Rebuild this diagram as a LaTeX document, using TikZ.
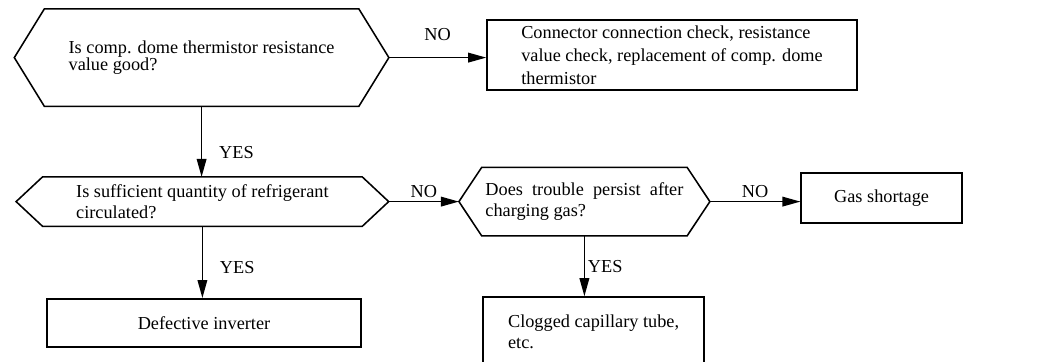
\documentclass[tikz,border=0pt]{standalone}
\usepackage{fontspec}
\setmainfont{Liberation Serif}
\usetikzlibrary{arrows.meta, positioning, calc}
\newcommand{\flowfont}{\fontsize{13}{14.6}\selectfont}
\tikzset{
  box/.style={
    rectangle, draw=black, fill=white, line width=1.1pt,
    align=center, font=\flowfont
  },
  decision/.style={
    rectangle, align=left, font=\flowfont, inner sep=0pt
  },
  lbl/.style={font=\flowfont, inner sep=2pt},
  arrow/.style={-{Triangle[length=4.5mm,width=2.4mm]}, line width=1.1pt},
  frame/.style={line width=1.1pt, line join=miter},
}
% hexagon outline round a decision node, #2 = depth of the points
\newcommand{\hexframe}[2]{%
  \draw[frame] (#1.north west) -- (#1.north east)
    -- ([xshift=#2]#1.east) coordinate (#1-r)
    -- (#1.south east) -- (#1.south west)
    -- ([xshift=-#2]#1.west) coordinate (#1-l) -- cycle;}

\begin{document}
\begin{tikzpicture}
  \useasboundingbox (0,0) rectangle (25.95,-9.025);
  \clip (0,0) rectangle (25.95,-9.025);

  % decisions
  \node[decision, minimum width=7.85cm, minimum height=2.42cm] (q1) at (5.04,-1.44)
    {Is comp. dome thermistor resistance\\[-2pt]value good?};
  \hexframe{q1}{0.75cm}

  \node[decision, minimum width=7.98cm, minimum height=1.22cm] (q2) at (5.06,-5.04)
    {Is sufficient quantity of refrigerant\\circulated?};
  \hexframe{q2}{0.66cm}

  \node[decision, minimum width=5.12cm, minimum height=1.7cm] (q3) at (14.61,-5.04)
    {Does\ \ trouble\ \ persist\ \ after\\charging gas?};
  \hexframe{q3}{0.57cm}

  % results
  \node[box, minimum width=9.25cm, minimum height=1.75cm, align=left, xshift=-0.15cm] (fix) at (16.95,-1.38)
    {Connector connection check, resistance\\[1.5pt]value check, replacement of comp. dome\\[1.5pt]thermistor};
  \node[box, minimum width=4.02cm, minimum height=1.25cm] (gas) at (22.04,-4.95) {Gas shortage};
  \node[box, minimum width=7.85cm, minimum height=1.2cm] (inv) at (5.1,-8.07) {Defective inverter};
  \node[box, minimum width=5.53cm, minimum height=1.75cm, align=left] (clog) at (14.84,-8.3)
    {Clogged capillary tube,\\etc.};

  % connectors
  \draw[arrow] (q1-r) -- (q1-r -| fix.west) node[midway, above=0.34cm, lbl] {NO};
  \draw[arrow] (q1.south) -- (q1.south |- q2.north) node[pos=0.65, right=0.35cm, lbl] {YES};
  \draw[arrow] (q2-r) -- (q3-l) node[midway, above, lbl] {NO};
  \draw[arrow] (q2.south) -- (q2.south |- inv.north) node[pos=0.58, right=0.35cm, lbl] {YES};
  \draw[arrow] (q3-r) -- (q3-r -| gas.west) node[midway, above, lbl] {NO};
  \draw[arrow] (q3.south) -- (q3.south |- clog.north) node[midway, right, lbl] {YES};
\end{tikzpicture}
\end{document}
